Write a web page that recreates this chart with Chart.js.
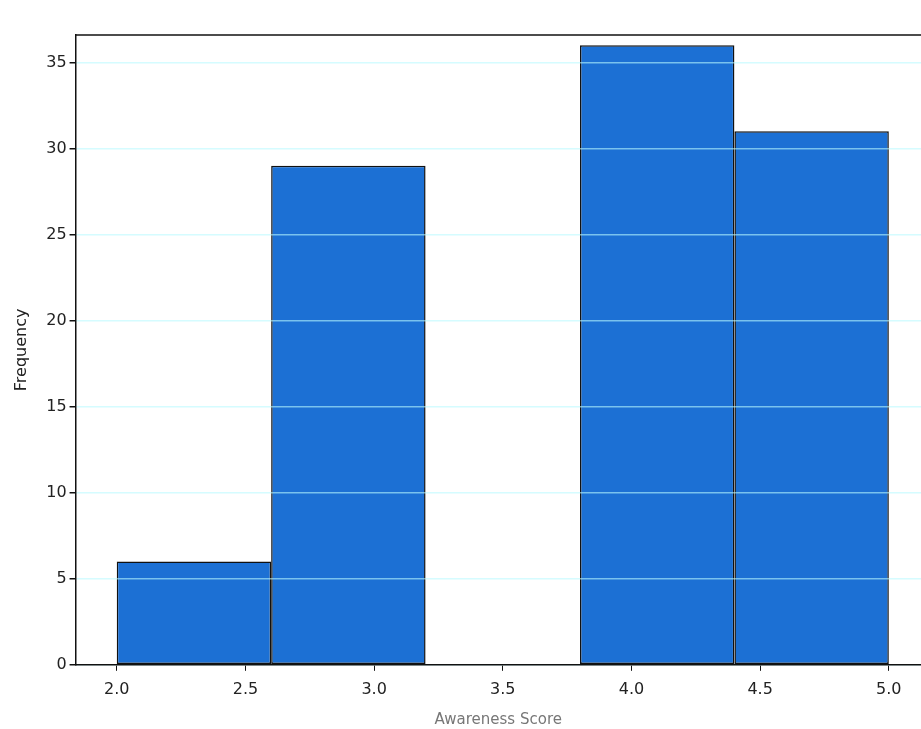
<!DOCTYPE html>
<html>
<head>
<meta charset="utf-8">
<script src="https://cdn.jsdelivr.net/npm/chart.js@4.4.0/dist/chart.umd.min.js"></script>
<style>
  html, body { margin: 0; padding: 0; background: #ffffff; }
  #wrap { width: 921px; height: 729px; }
</style>
</head>
<body>
<div id="wrap"><canvas id="histograma"></canvas></div>
<script>
// bin centres (bins 0.6 wide, from 2.0 to 5.0)
const binCentres = [2.3, 2.9, 3.5, 4.1, 4.7];
const binWidth = 0.6;
const frecuencias = [6, 29, 0, 36, 31];
const xTicks = [2.0, 2.5, 3.0, 3.5, 4.0, 4.5, 5.0];
const yTicks = [0, 5, 10, 15, 20, 25, 30, 35];

// top frame line of the axes box
const marco = {
    id: 'marco',
    afterDraw(chart) {
        const { ctx, chartArea } = chart;
        ctx.save();
        ctx.strokeStyle = '#111';
        ctx.lineWidth = 1.5;
        ctx.beginPath();
        ctx.moveTo(chartArea.left, chartArea.top);
        ctx.lineTo(chartArea.right, chartArea.top);
        ctx.stroke();
        ctx.restore();
    }
};

function loadPage() {
    let ctx = document.getElementById("histograma");
    new Chart(ctx.getContext('2d'), {
        type: 'bar',
        data: {
            datasets: [{
                label: 'Frequency',
                data: binCentres.map((x, i) => ({ x: x, y: frecuencias[i] })),
                backgroundColor: 'rgb(28, 112, 212)',
                borderColor: '#111',
                borderWidth: 1.5,
                borderSkipped: false,
                // ruler uses the 0.5 tick spacing, so stretch to the 0.6 bin
                barPercentage: binWidth / 0.5,
                categoryPercentage: 1
            }]
        },
        options: {
            responsive: true,
            maintainAspectRatio: false,
            animation: false,
            layout: { padding: { top: 35, right: 0, left: 8, bottom: 0 } },
            plugins: {
                legend: { display: false },
                tooltip: { enabled: false }
            },
            scales: {
                x: {
                    type: 'linear',
                    offset: false,
                    min: 1.84,
                    max: 5.125,
                    afterBuildTicks: axis => { axis.ticks = xTicks.map(v => ({ value: v })); },
                    grid: { offset: false, drawOnChartArea: false, tickLength: 6, tickColor: '#111' },
                    border: { z: 2, color: '#111', width: 1.5 },
                    ticks: {
                        color: '#222',
                        padding: 9,
                        font: { family: 'DejaVu Sans', size: 16 },
                        callback: v => v.toFixed(1),
                        maxRotation: 0,
                        autoSkip: false
                    },
                    title: {
                        display: true,
                        text: 'Awareness Score',
                        color: '#777',
                        font: { family: 'DejaVu Sans', size: 15 },
                        padding: { top: 3, bottom: 0 }
                    }
                },
                y: {
                    min: 0,
                    max: 36.6,
                    afterBuildTicks: axis => { axis.ticks = yTicks.map(v => ({ value: v })); },
                    grid: { z: 1, color: 'rgba(185, 250, 255, 0.6)', lineWidth: 1.5, tickLength: 6, tickColor: '#111' },
                    border: { z: 2, color: '#111', width: 1.5 },
                    ticks: {
                        color: '#222',
                        font: { family: 'DejaVu Sans', size: 16 }
                    },
                    title: {
                        display: true,
                        text: 'Frequency',
                        color: '#222',
                        font: { family: 'DejaVu Sans', size: 16 },
                        padding: { top: 4, bottom: 12 }
                    }
                }
            }
        },
        plugins: [marco]
    });
}
window.addEventListener("DOMContentLoaded", loadPage);
</script>
</body>
</html>
